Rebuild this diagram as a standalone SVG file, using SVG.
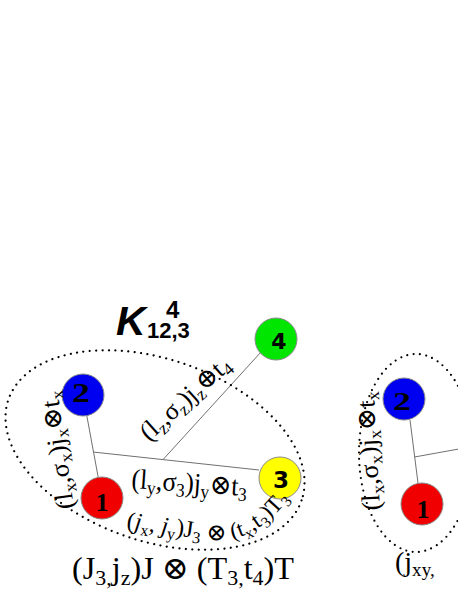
<svg xmlns="http://www.w3.org/2000/svg" width="458" height="592" viewBox="0 0 458 592">
<style>
.m{font-family:"Liberation Serif","DejaVu Serif",serif;fill:#000}
.s{font-size:68%}
.it{font-style:italic}
.dot{fill:none;stroke:#000;stroke-width:2.2;stroke-linecap:round;stroke-dasharray:0 6.4}
.edge{stroke:#707070;stroke-width:1;fill:none}
.nc{stroke:#8a8a8a;stroke-width:1}
.ns{font-family:"DejaVu Sans","Liberation Sans",sans-serif;font-weight:bold;text-anchor:middle;fill:#000}
.nr{font-family:"Liberation Serif","DejaVu Serif",serif;font-weight:bold;text-anchor:middle;fill:#000}
.k{font-family:"Liberation Sans","Arial",sans-serif;font-weight:bold;fill:#000}
</style>
<defs>
<path id="pD" d="M 126 528 L 210 540 C 240 543 270 530 300 482 L 306 472"/>
</defs>
<rect width="458" height="592" fill="#fff"/>

<!-- connectors -->
<g id="connectors">
<line class="edge" x1="86.8" y1="415.7" x2="98.2" y2="477.3"/>
<line class="edge" x1="93" y1="452" x2="259" y2="470"/>
<line class="edge" x1="163" y1="459.6" x2="261" y2="352"/>
<line class="edge" x1="410" y1="420" x2="418" y2="483"/>
<line class="edge" x1="414.5" y1="457" x2="470" y2="447"/>
</g>

<!-- title -->
<g id="title">
<text class="k" font-style="italic" font-size="41" x="116" y="335">K</text>
<text class="k" font-size="24" x="166" y="318">4</text>
<text class="k" font-size="22" x="147" y="338">12,3</text>
</g>

<!-- left figure nodes -->
<g id="node2">
<circle class="nc" cx="83" cy="395" r="21" fill="#0000f0"/>
<text class="nr" font-size="28" x="81" y="402" textLength="18" lengthAdjust="spacingAndGlyphs">2</text>
</g>
<g id="node1">
<circle class="nc" cx="102" cy="498" r="21" fill="#f00000"/>
<text class="nr" font-size="26" x="102" y="511">1</text>
</g>
<g id="node4">
<circle class="nc" cx="276" cy="339" r="21" fill="#00e600"/>
<text class="ns" font-size="22" x="279" y="349">4</text>
</g>
<g id="node3">
<circle class="nc" cx="280" cy="478" r="21" fill="#ffff00"/>
<text class="ns" font-size="23" x="281" y="488">3</text>
</g>

<!-- right figure nodes -->
<g id="node2b">
<circle class="nc" cx="404" cy="399" r="21" fill="#0000f0"/>
<text class="nr" font-size="26" x="402" y="410" textLength="18" lengthAdjust="spacingAndGlyphs">2</text>
</g>
<g id="node1b">
<circle class="nc" cx="422" cy="504" r="21" fill="#f00000"/>
<text class="nr" font-size="26" x="423" y="518">1</text>
</g>

<!-- dotted groupings -->
<g id="groups">
<ellipse class="dot" cx="155" cy="450" rx="155" ry="91" transform="rotate(19 155 450)"/>
<ellipse class="dot" cx="416" cy="453" rx="57" ry="99"/>
</g>

<!-- labels -->
<g id="labels">
<text class="m" font-size="26" transform="translate(74,508) rotate(-98)" textLength="119" lengthAdjust="spacingAndGlyphs">(l<tspan class="s" dy="5">x</tspan><tspan dy="-5">,σ</tspan><tspan class="s" dy="5">x</tspan><tspan dy="-5">)j</tspan><tspan class="s" dy="5">x</tspan><tspan dy="-5">⊗t</tspan><tspan class="s" dy="5">x</tspan></text>

<text class="m" font-size="26" transform="translate(149,442) rotate(-42)" textLength="112" lengthAdjust="spacingAndGlyphs">(l<tspan class="s" dy="5">z</tspan><tspan dy="-5">,σ</tspan><tspan class="s" dy="5">z</tspan><tspan dy="-5">)j</tspan><tspan class="s" dy="5">z</tspan><tspan dy="-5">⊕t</tspan><tspan class="s" dy="5">4</tspan></text>

<text class="m" font-size="28" transform="translate(131,488) rotate(4)" textLength="116" lengthAdjust="spacingAndGlyphs">(l<tspan class="s" dy="5">y</tspan><tspan dy="-5">,σ</tspan><tspan class="s" dy="5">3</tspan><tspan dy="-5">)j</tspan><tspan class="s" dy="5">y</tspan><tspan dy="-5">⊗t</tspan><tspan class="s" dy="5">3</tspan></text>

<text class="m" font-size="24"><textPath href="#pD">(<tspan class="it">j</tspan><tspan class="s" dy="5">x</tspan><tspan dy="-5">, </tspan><tspan class="it">j</tspan><tspan class="s" dy="5">y</tspan><tspan dy="-5">)J</tspan><tspan class="s" dy="5">3</tspan><tspan dy="-5"> ⊗ </tspan><tspan font-size="23">(t</tspan><tspan font-size="15.6" dy="5">x</tspan><tspan font-size="23" dy="-5">,t</tspan><tspan font-size="15.6" dy="5">3</tspan><tspan font-size="23" dy="-5">)T</tspan><tspan font-size="15.6" dy="5">3</tspan></textPath></text>

<text class="m" font-size="32" x="72" y="579" textLength="222" lengthAdjust="spacingAndGlyphs">(J<tspan class="s" dy="6">3,</tspan><tspan dy="-6">j</tspan><tspan class="s" dy="6">z</tspan><tspan dy="-6">)J ⊗ (T</tspan><tspan class="s" dy="6">3,</tspan><tspan dy="-6">t</tspan><tspan class="s" dy="6">4</tspan><tspan dy="-6">)T</tspan></text>

<text class="m" font-size="26" transform="translate(380,510) rotate(-93)" textLength="119" lengthAdjust="spacingAndGlyphs">(l<tspan class="s" dy="5">x</tspan><tspan dy="-5">,σ</tspan><tspan class="s" dy="5">x</tspan><tspan dy="-5">)j</tspan><tspan class="s" dy="5">x</tspan><tspan dy="-5">⊗t</tspan><tspan class="s" dy="5">x</tspan></text>

<text class="m" font-size="28" x="395" y="571">(j<tspan class="s" dy="5">xy,</tspan></text>
</g>
</svg>
